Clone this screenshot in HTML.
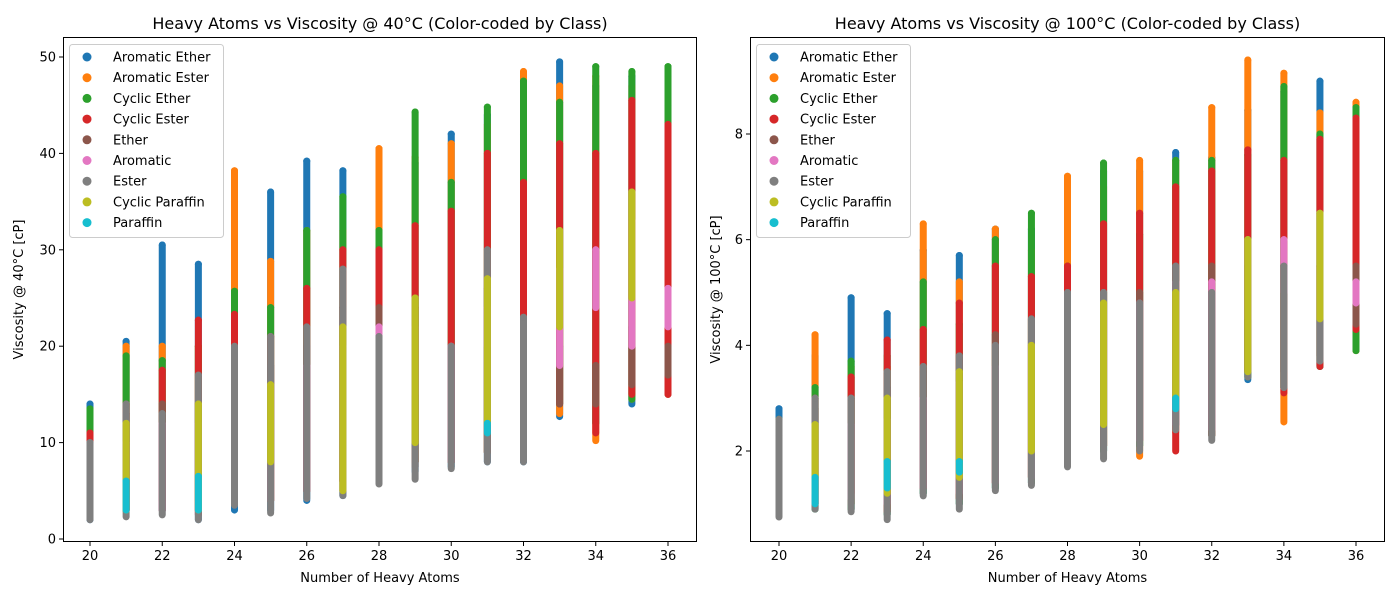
<!DOCTYPE html>
<html><head><meta charset="utf-8">
<style>
body{margin:0;background:#fff;font-family:"DejaVu Sans","Liberation Sans",sans-serif;}
svg text{font-family:"DejaVu Sans","Liberation Sans",sans-serif;fill:#000}
</style></head>
<body>
<svg id="chart" width="1400" height="600" xmlns="http://www.w3.org/2000/svg"></svg>
<script>
// Heavy atom counts (x categories)
const heavyAtoms = [20,21,22,23,24,25,26,27,28,29,30,31,32,33,34,35,36];
const classNames = ["Aromatic Ether","Aromatic Ester","Cyclic Ether","Cyclic Ester","Ether","Aromatic","Ester","Cyclic Paraffin","Paraffin"];
const classColors = ["#1f77b4","#ff7f0e","#2ca02c","#d62728","#8c564b","#e377c2","#7f7f7f","#bcbd22","#17becf"];
const n = null;
// Viscosity @ 40°C ranges (low / high) per class per heavy-atom count
const lo40 = [
 [2,3,3,2,3,3,4,4.5,6,7,7.5,8,8,12.7,12,14,15],
 [3,3,4,3,4,4,5,5,7,8,8,9,9,13,10.2,14.5,15],
 [3,3,4,4,4,4,5,6,7,8,8,9,9,14,12,14.5,16],
 [2.5,3,3,2.5,4,4,5,6,7,8,8,9,9,14,11,15,15],
 [2.5,3,3,3,4,4,5,6,7,7.5,8,9,9,14,14,16,17],
 [3,3,3,3,4,4,5,6,7,15,8,20,10,18,24,20,22],
 [2,2.3,2.5,2,3.5,2.7,4.2,4.5,5.7,6.2,7.3,8,8,n,n,n,n],
 [n,3,n,3,n,8,n,5,n,10,n,12,n,22,n,25,n],
 [n,3,n,3,n,n,n,n,n,n,n,11,n,n,n,n,n]
];
const hi40 = [
 [14,20.5,30.5,28.5,35,36,39.2,38.2,35,39,42,44,42,49.5,47,48,45],
 [12,20,20,20,38.2,28.8,32,32,40.5,39.6,41,43,48.5,47,48,47,48],
 [13.5,19,18.5,20,25.7,24,32,35.5,32,44.3,37,44.8,47.5,45.3,49,48.5,49],
 [11,14,17.5,22.7,23.3,21,26,30,30,32.5,34,40,37,41,40,45.5,43],
 [10,13,14,14,16,18,20,24,24,24,20,26,22,20,18,22,20],
 [8,10,12,12,14,16,18,20,22,22,20,24,20,28,30,33,26],
 [10,14,13,17,20,21,22,28,21,25,20,30,23,n,n,n,n],
 [n,12,n,14,n,16,n,22,n,25,n,27,n,32,n,36,n],
 [n,6,n,6.5,n,n,n,n,n,n,n,12,n,n,n,n,n]
];
// Viscosity @ 100°C ranges
const lo100 = [
 [0.8,0.9,0.9,0.8,1.2,1,1.3,1.4,1.8,2,2.1,2.5,2.3,3.35,3.2,3.6,3.9],
 [0.9,1,1,0.9,1.3,1.1,1.4,1.5,1.9,2.1,1.9,2.35,2.3,3.5,2.55,3.7,3.9],
 [0.8,0.9,0.9,0.8,1.2,1,1.3,1.4,1.8,2,2.1,2.5,2.3,3.4,3.2,3.6,3.9],
 [0.9,1,1.2,0.85,1.3,1.1,1.4,1.5,1.9,2.1,2.2,2,2.3,3.5,3.1,3.6,4.3],
 [0.9,1,1,1,1.3,1.1,1.4,1.5,1.9,2.1,2.2,2.5,2.3,3.5,3.5,3.8,4.4],
 [1,1,1.1,1,1.3,1.2,1.4,1.5,1.9,3.5,2.2,2.5,2.4,4.5,5,4.5,4.8],
 [0.75,0.9,0.85,0.7,1.15,0.9,1.25,1.35,1.7,1.85,2,2.4,2.2,3.4,3.2,3.7,n],
 [n,1.2,n,1.2,n,1.5,n,2,n,2.5,n,3,n,3.5,n,4.5,n],
 [n,1.0,n,1.3,n,1.6,n,n,n,n,n,2.8,n,n,n,n,n]
];
const hi100 = [
 [2.8,3.8,4.9,4.6,5.8,5.7,6.2,6.2,5.8,7.3,7.3,7.65,7.55,8.45,8.8,9,8.5],
 [2.4,4.2,3.6,3.6,6.3,5.2,6.2,5.8,7.2,7,7.5,7.5,8.5,9.4,9.15,8.4,8.6],
 [2.6,3.2,3.7,3.8,5.2,4.4,6,6.5,5.5,7.45,6.1,7.5,7.5,7.6,8.9,8,8.5],
 [2.4,3,3.4,4.1,4.3,4.8,5.5,5.3,5.5,6.3,6.5,7,7.3,7.7,7.5,7.9,8.3],
 [2.3,2.8,3,3.2,3.5,3.8,4.2,4.5,5,5,5,5.5,5.5,5.5,5.5,5.5,5.5],
 [1.8,2.2,2.5,2.6,3,3.3,3.6,4,4.3,4.5,4.8,5.2,5.2,6,6,5.5,5.2],
 [2.6,3,3,3.5,3.6,3.8,4,4.5,5,5,4.8,5.5,5,6,5.5,6.5,n],
 [n,2.5,n,3,n,3.5,n,4,n,4.8,n,5,n,6,n,6.5,n],
 [n,1.5,n,1.8,n,1.8,n,n,n,n,n,3.0,n,n,n,n,n]
];
const yTicks40 = [0,10,20,30,40,50];
const yTicks100 = [2,4,6,8];
const xTicks = [20,22,24,26,28,30,32,34,36];

const svg = document.getElementById('chart');
const NS = 'http://www.w3.org/2000/svg';
function mk(tag, attrs, parent){const e=document.createElementNS(NS,tag);for(const k in attrs)e.setAttribute(k,attrs[k]);(parent||svg).appendChild(e);return e;}

const panels = [
 {left:63,right:697,top:37,bottom:542,x0:90,x1:668,yv0:0,yp0:539,yv1:50,yp1:57,lo:lo40,hi:hi40,ticks:yTicks40,
  title:"Heavy Atoms vs Viscosity @ 40°C (Color-coded by Class)",ylab:"Viscosity @ 40°C [cP]",name:"chart-40c",yoff:40},
 {left:750,right:1385,top:37,bottom:542,x0:779,x1:1356,yv0:2,yp0:451,yv1:8,yp1:134,lo:lo100,hi:hi100,ticks:yTicks100,
  title:"Heavy Atoms vs Viscosity @ 100°C (Color-coded by Class)",ylab:"Viscosity @ 100°C [cP]",name:"chart-100c",yoff:30}
];

panels.forEach(p=>{
  const g = mk('g',{});
  
  
  const xs = v => p.x0 + (v-20)*(p.x1-p.x0)/16;
  const ys = v => p.yp0 + (v-p.yv0)*(p.yp1-p.yp0)/(p.yv1-p.yv0);
  const cg = mk('clipPath',{id:'clip-'+p.name},g);
  mk('rect',{x:p.left,y:p.top,width:p.right-p.left,height:p.bottom-p.top},cg);
  const marks = mk('g',{'clip-path':'url(#clip-'+p.name+')'},g);
  classNames.forEach((cn,ci)=>{
    const sg = mk('g',{},marks);
    
    
    heavyAtoms.forEach((x,i)=>{
      const a=p.lo[ci][i], b=p.hi[ci][i];
      if(a==null||b==null) return;
      const l = mk('line',{x1:xs(x),x2:xs(x),y1:ys(a),y2:ys(b),stroke:classColors[ci],'stroke-width':7,'stroke-linecap':'round'},sg);
      
      
      mk('circle',{cx:xs(x),cy:ys(b),r:3.5,fill:classColors[ci]},sg);
    });
  });
  const frame = mk('rect',{x:p.left+0.5,y:p.top+0.5,width:p.right-p.left-1,height:p.bottom-p.top-1,fill:'none',stroke:'#000','stroke-width':1},g);
  
  
  xTicks.forEach(t=>{
    mk('line',{x1:xs(t),x2:xs(t),y1:p.bottom,y2:p.bottom+4,stroke:'#000'},g);
    const tx = mk('text',{x:xs(t),y:p.bottom+18,'font-size':13,'text-anchor':'middle'},g);
    tx.textContent=t;
    
    
  });
  p.ticks.forEach(t=>{
    mk('line',{x1:p.left-4,x2:p.left,y1:ys(t),y2:ys(t),stroke:'#000'},g);
    const tx = mk('text',{x:p.left-7,y:ys(t)+4.5,'font-size':13,'text-anchor':'end'},g);
    tx.textContent=t;
    
    
  });
  const ti = mk('text',{x:(p.left+p.right)/2,y:29,'font-size':16,'text-anchor':'middle'},g);
  ti.textContent=p.title;
  
  
  const xl = mk('text',{x:(p.left+p.right)/2,y:582,'font-size':13,'text-anchor':'middle'},g);
  xl.textContent="Number of Heavy Atoms";
  
  
  const yx = p.left-p.yoff, yy=(p.top+p.bottom)/2;
  const yl = mk('text',{x:yx,y:yy,'font-size':13,'text-anchor':'middle',transform:'rotate(-90 '+yx+' '+yy+')'},g);
  yl.textContent=p.ylab;
  
  
  const lg = mk('g',{},g);
  
  
  mk('rect',{x:p.left+6.5,y:44.5,width:154,height:193,rx:3,fill:'#fff','fill-opacity':0.8,stroke:'#ccc'},lg);
  classNames.forEach((cn,ci)=>{
    const cy = 57 + ci*20.7;
    const e = mk('g',{},lg);
    
    
    mk('circle',{cx:p.left+24,cy:cy,r:4.5,fill:classColors[ci]},e);
    const t = mk('text',{x:p.left+50,y:cy+4.5,'font-size':13},e);
    t.textContent=cn;
  });
});
</script>
</body></html>
